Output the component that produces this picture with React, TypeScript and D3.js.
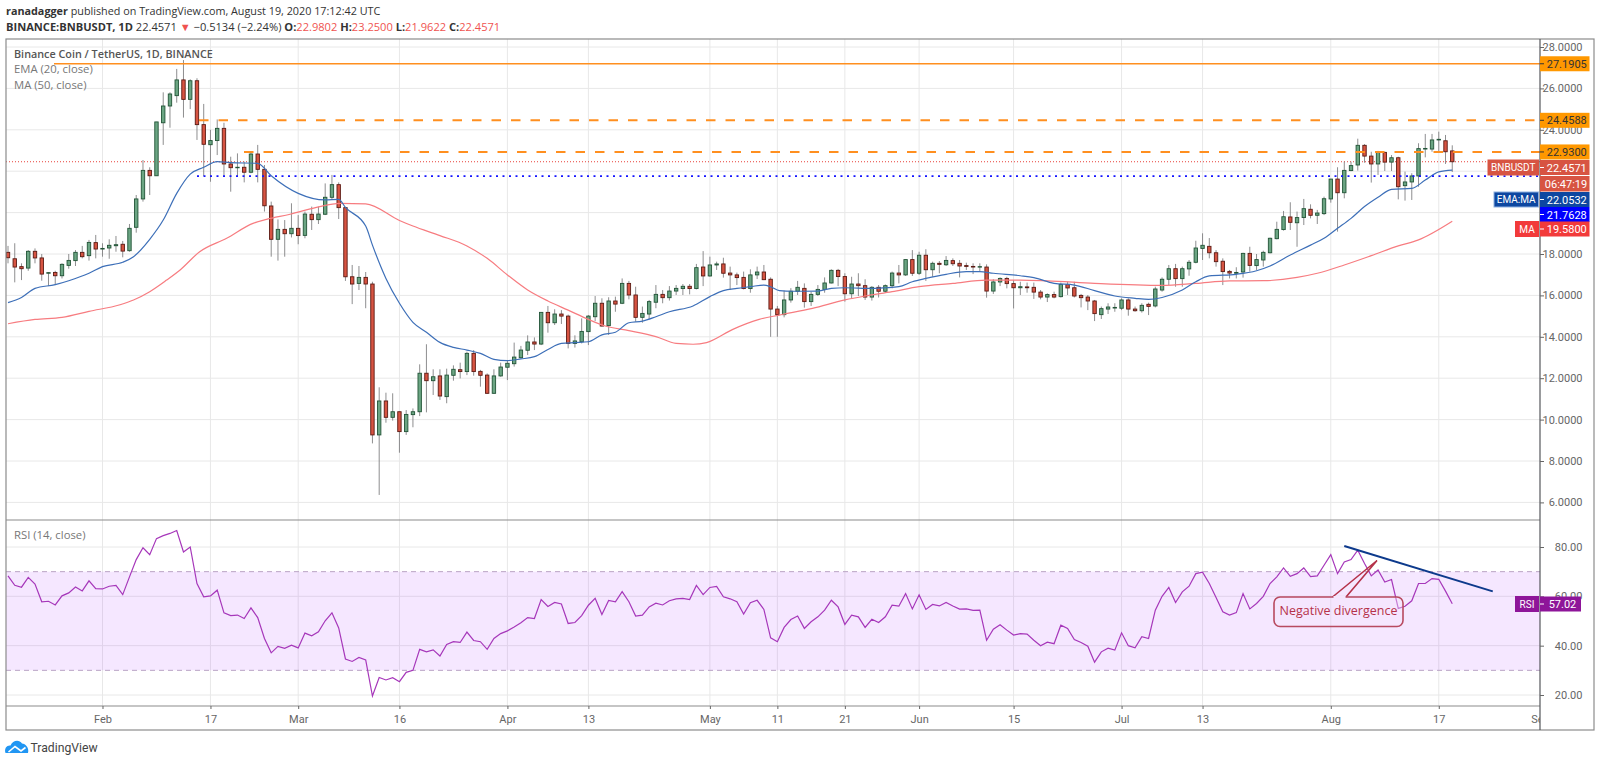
import { useEffect, useRef } from "react";
import * as d3 from "d3";

// daily candles, bar 0 = Jan 18 2020
const opens = [
  18.08,17.77,17.39,17.32,18.13,17.81,17.07,17.11,16.95,17.45,
  17.68,18.08,17.92,18.55,18.24,18.29,18.40,18.47,18.16,19.29,
  20.66,22.04,21.78,24.34,25.15,25.65,26.41,25.47,26.37,24.25,
  23.28,23.48,24.07,22.35,22.17,22.19,21.95,22.83,22.09,20.32,
  18.71,19.19,18.98,19.24,18.90,19.92,19.66,19.92,20.74,21.35,
  20.24,16.90,16.58,16.87,16.55,9.26,10.90,10.11,10.38,9.42,
  10.24,10.38,12.24,11.88,12.11,11.11,12.14,12.41,12.32,13.20,
  12.33,12.15,11.27,12.11,12.53,12.70,12.99,13.35,13.75,13.65,
  15.18,14.68,15.10,15.00,13.68,13.76,14.25,14.97,15.62,14.54,
  15.73,15.62,16.58,16.02,14.94,15.10,15.67,16.05,15.89,16.21,
  16.33,16.44,16.33,17.37,16.94,17.47,17.52,17.08,16.99,16.87,
  16.33,16.99,17.13,16.78,15.34,15.07,15.78,16.20,16.34,15.70,
  16.05,16.29,16.60,17.21,16.91,16.08,16.55,16.47,15.92,16.39,
  16.20,16.47,17.08,16.99,17.73,17.07,17.94,17.24,17.55,17.48,
  17.68,17.55,17.44,17.40,17.37,17.37,16.21,16.65,16.82,16.57,
  16.37,16.41,16.39,16.16,15.92,16.04,15.94,16.52,16.37,16.00,
  15.92,15.73,15.07,15.34,15.39,15.38,15.78,15.34,15.26,15.57,
  15.49,16.26,16.78,17.29,16.81,17.28,17.60,18.27,18.37,18.06,
  17.65,17.16,17.07,17.13,18.03,17.44,17.71,18.06,18.74,19.18,
  19.79,19.51,19.76,20.16,19.87,19.95,20.66,21.62,20.96,22.03,
  22.30,23.25,22.73,22.35,22.91,22.44,22.65,21.30,21.48,21.77,
  23.07,23.07,23.51,23.47,22.9802,
];
const closes = [
  17.82,17.37,17.29,18.13,17.81,17.03,17.10,16.95,17.50,17.69,
  18.08,17.87,18.56,18.24,18.27,18.42,18.45,18.14,19.24,20.66,
  22.04,21.78,24.38,25.15,25.73,26.41,25.47,26.37,24.25,23.30,
  23.48,24.07,22.35,22.17,22.19,21.95,22.83,22.09,20.33,18.71,
  19.19,18.98,19.24,18.89,19.93,19.66,19.93,20.74,21.35,20.24,
  16.90,16.55,16.87,16.55,9.26,10.90,10.11,10.38,9.42,10.25,
  10.38,12.24,11.88,12.07,11.14,12.15,12.43,12.32,13.20,12.32,
  12.14,11.27,12.11,12.54,12.72,13.02,13.36,13.75,13.65,15.18,
  14.68,15.10,15.00,13.68,13.80,14.26,15.00,15.62,14.52,15.73,
  15.58,16.58,16.02,14.94,15.13,15.70,16.05,15.89,16.21,16.34,
  16.44,16.33,17.34,16.94,17.47,17.52,17.07,16.99,16.86,16.33,
  16.99,17.13,16.76,15.34,15.07,15.78,16.20,16.39,15.70,16.05,
  16.29,16.60,17.21,16.91,16.08,16.55,16.47,15.92,16.39,16.20,
  16.47,17.08,16.99,17.73,17.07,17.94,17.24,17.55,17.50,17.69,
  17.53,17.42,17.40,17.37,17.39,16.21,16.65,16.82,16.57,16.37,
  16.42,16.37,16.16,15.92,16.04,15.92,16.53,16.36,15.97,15.89,
  15.73,15.12,15.36,15.44,15.42,15.78,15.34,15.26,15.52,15.47,
  16.31,16.78,17.29,16.81,17.29,17.60,18.29,18.42,18.06,17.63,
  17.15,17.08,17.11,18.03,17.45,17.73,18.08,18.76,19.19,19.80,
  19.53,19.76,20.19,19.87,19.98,20.67,21.62,20.96,22.04,22.27,
  23.25,22.73,22.35,22.91,22.44,22.65,21.25,21.48,21.77,23.09,
  23.10,23.51,23.54,22.94,22.4571,
];
const highs = [
  18.39,18.52,17.55,18.19,18.27,18.00,17.12,17.19,17.55,18.00,
  18.19,18.39,18.68,18.92,18.52,18.71,18.87,18.63,19.45,20.85,
  22.54,22.19,24.38,25.81,25.81,26.94,27.37,26.44,26.49,25.25,
  24.00,24.50,24.34,22.70,22.86,22.46,22.90,23.27,22.30,20.53,
  19.67,19.64,20.45,19.88,20.05,20.29,20.29,21.41,21.82,21.46,
  20.24,17.47,17.42,17.13,16.66,11.56,11.30,11.27,10.38,10.46,
  10.54,12.67,13.64,12.43,12.43,12.46,12.62,12.75,13.28,13.36,
  12.40,12.23,12.43,12.75,12.88,13.72,13.56,14.07,13.97,15.18,
  15.49,15.33,15.29,15.07,14.07,14.89,15.05,15.97,15.86,15.91,
  15.94,16.82,16.70,16.42,15.46,15.78,16.50,16.26,16.45,16.50,
  16.55,16.55,17.52,18.14,17.87,17.63,17.82,17.39,17.10,17.15,
  17.26,17.39,17.47,16.87,15.49,16.23,16.35,16.70,16.58,16.18,
  16.50,16.87,17.26,17.28,17.07,16.90,17.07,16.78,16.45,16.50,
  16.53,17.15,17.47,17.74,18.19,18.11,18.23,17.63,17.66,17.90,
  17.79,17.71,17.58,17.55,17.55,17.50,16.78,16.87,16.90,16.74,
  16.66,16.62,16.62,16.26,16.10,16.18,16.62,16.66,16.66,16.07,
  16.02,15.78,15.46,15.62,15.62,15.86,15.86,15.46,15.62,15.65,
  16.42,16.87,17.47,17.52,17.39,17.71,18.64,19.00,18.77,18.19,
  17.79,17.23,17.36,18.06,18.35,18.00,18.16,18.79,19.56,20.08,
  20.50,20.05,20.66,20.40,20.13,20.77,21.62,22.19,22.46,22.46,
  23.57,23.31,22.94,22.98,22.94,22.78,22.70,21.98,21.90,23.35,
  23.80,23.80,23.91,23.75,23.25,
];
const lows = [
  17.55,16.63,16.74,17.19,17.55,16.71,16.45,16.50,16.82,17.29,
  17.42,17.79,17.68,17.79,17.87,17.77,18.11,17.84,18.11,19.03,
  20.53,20.85,21.78,23.27,24.10,25.31,24.59,25.00,23.51,21.77,
  21.49,22.78,21.78,21.01,21.74,21.46,21.90,21.46,20.05,17.87,
  17.68,17.87,18.80,18.47,18.76,19.16,19.45,19.88,20.64,19.69,
  16.70,15.58,16.26,15.38,8.85,6.36,9.85,9.95,8.40,9.26,
  9.63,10.17,10.35,11.19,10.95,10.79,11.88,11.99,12.15,12.12,
  11.59,11.24,11.24,12.07,11.91,12.56,12.96,13.12,13.36,13.60,
  14.20,14.57,14.62,13.44,13.48,13.68,13.60,14.76,14.49,14.09,
  15.21,15.58,15.81,14.73,14.68,14.86,15.38,15.62,15.75,16.02,
  16.02,16.05,16.29,16.45,16.90,17.23,16.86,16.26,16.50,16.29,
  16.13,16.79,16.74,14.00,14.00,14.94,15.65,16.02,15.41,15.49,
  15.97,16.13,16.58,16.45,15.70,15.86,15.97,15.78,15.75,15.90,
  16.13,16.34,16.58,16.94,16.94,16.99,16.70,16.90,17.07,17.42,
  17.42,16.87,17.23,17.03,17.15,15.89,16.07,16.45,16.34,15.37,
  16.02,16.13,15.83,15.81,15.68,15.86,15.90,16.02,15.90,15.42,
  15.29,14.76,14.86,15.10,15.21,15.29,15.02,15.21,15.17,15.05,
  15.42,16.18,16.50,16.42,16.42,16.95,17.55,17.71,17.79,17.39,
  16.50,16.82,16.82,16.86,17.15,17.23,17.39,18.03,18.71,19.13,
  19.16,18.35,19.40,19.72,19.45,19.88,20.48,19.08,20.69,22.00,
  22.03,22.41,21.45,21.82,22.01,22.01,20.64,20.58,20.61,21.25,
  22.67,22.94,22.94,22.35,21.9622,
];
const rsi = [
  68.3,64.5,63.7,67.7,65.0,57.8,58.0,56.5,60.2,61.4,
  63.8,62.2,66.3,63.1,63.0,64.1,64.4,60.7,67.9,74.9,
  79.7,76.9,83.4,84.6,85.5,86.7,78.0,80.0,65.2,59.8,
  60.2,62.5,53.3,52.2,52.4,51.0,55.3,51.4,42.9,37.1,
  39.7,38.9,40.2,39.1,45.1,44.0,45.6,50.1,53.3,47.2,
  34.6,33.6,35.2,34.2,19.6,27.1,26.1,27.0,25.4,29.2,
  30.0,38.5,37.5,38.3,35.8,40.5,41.6,41.3,45.5,42.1,
  41.6,38.5,42.9,44.9,46.0,47.6,49.3,51.4,51.0,58.7,
  55.9,57.5,56.9,49.0,49.4,52.2,56.4,59.2,52.6,58.3,
  57.8,61.9,57.8,52.0,52.4,55.7,57.2,56.5,58.2,59.0,
  59.2,58.7,64.4,60.7,63.6,64.0,59.8,59.0,57.8,52.8,
  57.4,58.4,54.7,43.2,41.6,47.4,50.6,52.0,47.0,49.7,
  51.7,54.4,58.4,55.7,48.6,52.4,51.7,47.4,50.7,49.4,
  51.7,56.4,56.0,61.1,54.9,60.6,54.7,56.7,56.1,57.5,
  56.1,54.8,54.9,54.3,54.4,42.2,46.7,48.5,46.3,44.3,
  44.9,44.7,42.2,40.0,41.4,40.8,48.3,47.0,42.5,41.3,
  39.8,33.3,37.5,39.0,38.2,45.2,40.0,39.1,43.6,42.9,
  54.4,60.0,63.6,57.5,61.8,64.1,69.2,69.8,65.2,59.5,
  53.7,52.4,53.4,61.1,54.9,57.1,60.0,65.2,67.9,71.5,
  68.1,69.2,71.5,68.0,68.3,72.6,76.9,69.2,73.9,74.9,
  78.7,73.3,68.3,70.7,65.8,66.8,55.1,56.0,58.2,65.2,
  65.2,67.2,66.9,62.1,57.02,
];

// EMA 20 and MA 50 read every couple of bars
const emaBars = [0,2,4,7,9,12,14,17,18.6,21,23,25,27,29,31,33,37,39,43,47,49,50,53,54,56,58,60,62,64,66,68,70,72,74,76,78,80,82,84,86,88,90,92,94,96,98,101.5,104,106,108,110,112,113,114.3,116.3,120,122,124,128,130,132,134,136,139,142,144,146,150,152,155,158,161,164,167,169,171,174,176,178,182,185,187,190,193,195,197,199,201,203,205,208,210,212,214];
const emaValues = [15.65,15.9,16.34,16.52,16.71,17.07,17.39,17.6,17.87,18.71,19.64,20.93,21.86,22.19,22.46,22.41,22.38,21.78,20.93,20.61,20.64,20.25,19.35,18.43,16.82,15.62,14.7,14.22,13.73,13.49,13.36,13.2,12.91,12.85,12.93,13.04,13.39,13.68,13.72,13.76,14.09,14.22,14.68,14.76,14.97,15.21,15.49,15.94,16.23,16.34,16.42,16.5,16.42,16.23,16.2,16.21,16.34,16.37,16.34,16.37,16.42,16.66,16.82,17.02,17.15,17.15,17.07,16.95,16.86,16.58,16.5,16.23,15.97,15.86,15.81,15.9,16.26,16.66,16.94,17.02,17.19,17.42,17.95,18.43,18.76,19.24,19.72,20.29,20.74,21.12,21.17,21.57,21.97,22.0532];
const maBars = [0,4,8,12,16.6,18.6,21,23.5,25.5,28.4,32.4,36.3,38.3,41.8,45.7,49.2,53,58,60,64,68,71,74,77,80,83,86,88.5,92,96,99,101.5,103.5,107.4,111.3,114.3,119.2,124,127,131,135,140,145,150,154,161,171,176,181,186,191,194,198,202,206,209,214];
const maValues = [14.63,14.84,14.94,15.23,15.55,15.78,16.18,16.74,17.23,18.11,18.76,19.48,19.67,19.92,20.25,20.45,20.42,19.62,19.35,18.89,18.39,17.79,16.99,16.26,15.73,15.29,14.84,14.52,14.3,14.01,13.68,13.64,13.72,14.36,14.84,15.05,15.37,15.78,15.97,16.18,16.42,16.58,16.74,16.74,16.7,16.58,16.48,16.58,16.7,16.71,16.87,17.07,17.47,17.92,18.39,18.68,19.58];

const priceTicks = [6, 8, 10, 12, 14, 16, 18, 20, 22, 24, 26, 28];
const rsiTicks = [20, 40, 60, 80];
// 20 and 22 sit wholly under the price tags, so only the mark is kept
const hiddenPriceLabels = [20, 22];
const dateTickBars = [14, 30, 43, 58, 74, 86, 104, 114, 124, 135, 149, 165, 177, 196, 212, 227];
const dateTickLabels = ["Feb", "17", "Mar", "16", "Apr", "13", "May", "11", "21", "Jun", "15", "Jul", "13", "Aug", "17", "Sep"];

const RESISTANCE = 27.1905;
const LEVEL_HIGH = 24.4588;
const LEVEL_MID = 22.93;
const SUPPORT = 21.7628;
const LAST = 22.4571;
const EMA_LAST = 22.0532;
const MA_LAST = 19.58;
const RSI_LAST = 57.02;

const FONT = "'Open Sans', sans-serif";
const AXIS_FONT = "Roboto, sans-serif";

export default function App() {
  const svgRef = useRef<SVGSVGElement>(null);

  useEffect(() => {
    if (!svgRef.current) return;
    const width = 1600;
    const height = 763;
    const frame = { left: 6, right: 1594, top: 39, bottom: 730 };
    const axisX = 1540;
    const mainBottom = 520;
    const rsiBottom = 706;

    const svg = d3.select(svgRef.current)
      .attr("viewBox", `0 0 ${width} ${height}`);
    svg.selectAll("*").remove();

    // Scales
    const x = d3.scaleLinear().domain([0, 227]).range([8, axisX]);
    const y = d3.scaleLinear().domain([18, 28]).range([254, 47]);
    const yRsi = d3.scaleLinear().domain([20, 80]).range([695, 547]);

    // clip marks to the panes
    const defs = svg.append("defs");
    defs.append("clipPath").attr("id", "main-clip").append("rect")
      .attr("x", frame.left).attr("y", frame.top)
      .attr("width", axisX - frame.left).attr("height", mainBottom - frame.top);

    svg.append("rect").attr("width", width).attr("height", height).attr("fill", "#fff");

    // Gridlines
    const grid = svg.append("g").attr("stroke", "#e8e8e8").attr("stroke-width", 1);
    priceTicks.forEach(t => {
      grid.append("line")
        .attr("x1", frame.left).attr("x2", axisX)
        .attr("y1", y(t)).attr("y2", y(t));
    });
    rsiTicks.forEach(t => {
      grid.append("line")
        .attr("x1", frame.left).attr("x2", axisX)
        .attr("y1", yRsi(t)).attr("y2", yRsi(t));
    });
    dateTickBars.forEach(b => {
      if (b >= 227) return;
      grid.append("line")
        .attr("x1", x(b)).attr("x2", x(b))
        .attr("y1", frame.top).attr("y2", rsiBottom);
    });

    // RSI band
    svg.append("rect")
      .attr("x", frame.left).attr("width", axisX - frame.left)
      .attr("y", yRsi(70)).attr("height", yRsi(30) - yRsi(70))
      .attr("fill", "#9915ff").attr("opacity", 0.1);
    [70, 30].forEach(v => {
      svg.append("line")
        .attr("x1", frame.left).attr("x2", axisX)
        .attr("y1", yRsi(v)).attr("y2", yRsi(v))
        .attr("stroke", "#b9a3c4").attr("stroke-width", 1)
        .attr("stroke-dasharray", "5,4");
    });

    // Last price line under the candles
    svg.append("line")
      .attr("x1", frame.left).attr("x2", axisX)
      .attr("y1", y(LAST)).attr("y2", y(LAST))
      .attr("stroke", "#e8403a").attr("stroke-width", 1)
      .attr("stroke-dasharray", "1,2");

    // Candles
    const bars = d3.range(opens.length);
    const candles = svg.append("g").attr("clip-path", "url(#main-clip)");
    candles.selectAll("line.wick")
      .data(bars)
      .join("line")
      .attr("class", "wick")
      .attr("x1", i => x(i)).attr("x2", i => x(i))
      .attr("y1", i => y(highs[i])).attr("y2", i => y(lows[i]))
      .attr("stroke", "#737375").attr("stroke-width", 1).attr("opacity", 0.8);
    candles.selectAll("rect.body")
      .data(bars)
      .join("rect")
      .attr("class", "body")
      .attr("x", i => x(i) - 1.7)
      .attr("width", 3.4)
      .attr("y", i => y(Math.max(opens[i], closes[i])))
      .attr("height", i => Math.max(0.5, Math.abs(y(opens[i]) - y(closes[i]))))
      .attr("fill", i => closes[i] >= opens[i] ? "#6ba583" : "#d75442")
      .attr("stroke", i => closes[i] >= opens[i] ? "#225437" : "#5b1a13")
      .attr("stroke-width", 0.9);

    // EMA and MA
    const drawLine = (xs: number[], ys: number[], color: string) => {
      svg.append("path")
        .attr("d", d3.line<number>()
          .x(i => x(xs[i]))
          .y(i => y(ys[i]))
          .curve(d3.curveMonotoneX)(d3.range(xs.length)))
        .attr("fill", "none")
        .attr("stroke", color)
        .attr("stroke-width", 1.2);
    };
    drawLine(maBars, maValues, "#f77c80");
    drawLine(emaBars, emaValues, "#3d6fb8");

    // Drawn levels
    svg.append("line")
      .attr("x1", 54).attr("x2", axisX)
      .attr("y1", y(RESISTANCE)).attr("y2", y(RESISTANCE))
      .attr("stroke", "#ff8f1f").attr("stroke-width", 1.4);
    svg.append("line")
      .attr("x1", 199).attr("x2", axisX)
      .attr("y1", y(LEVEL_HIGH)).attr("y2", y(LEVEL_HIGH))
      .attr("stroke", "#ff8f1f").attr("stroke-width", 2)
      .attr("stroke-dasharray", "9.5,10");
    svg.append("line")
      .attr("x1", 244).attr("x2", axisX)
      .attr("y1", y(LEVEL_MID)).attr("y2", y(LEVEL_MID))
      .attr("stroke", "#ff8f1f").attr("stroke-width", 2)
      .attr("stroke-dasharray", "9.5,10");
    svg.append("line")
      .attr("x1", 197).attr("x2", axisX)
      .attr("y1", y(SUPPORT)).attr("y2", y(SUPPORT))
      .attr("stroke", "#1414ff").attr("stroke-width", 1.8)
      .attr("stroke-dasharray", "2,4.5");

    // RSI line
    svg.append("path")
      .attr("d", d3.line<number>().x((_, i) => x(i)).y(d => yRsi(d))(rsi))
      .attr("fill", "none")
      .attr("stroke", "#a637ba")
      .attr("stroke-width", 1.2);

    // Trendline on RSI
    svg.append("line")
      .attr("x1", x(198)).attr("y1", yRsi(80.4))
      .attr("x2", x(220)).attr("y2", yRsi(62))
      .attr("stroke", "#0d3a8c").attr("stroke-width", 2);

    // Callout
    const callout = svg.append("g");
    callout.append("path")
      .attr("d", "M1332.5,597 L1377,560.5 L1346,597")
      .attr("fill", "none")
      .attr("stroke", "#b5324a")
      .attr("stroke-width", 1.6);
    callout.append("rect")
      .attr("x", 1274).attr("y", 597).attr("width", 129).attr("height", 29.5)
      .attr("rx", 6)
      .attr("fill", "#f4e6fd").attr("fill-opacity", 0.4)
      .attr("stroke", "#b84a60").attr("stroke-width", 1.6);
    callout.append("rect")
      .attr("x", 1333.5).attr("y", 596).attr("width", 12).attr("height", 2.5)
      .attr("fill", "#f4e6fd");
    callout.append("text")
      .attr("x", 1338.5).attr("y", 614.5)
      .attr("text-anchor", "middle")
      .attr("font-family", FONT).attr("font-size", 12.5)
      .attr("fill", "#b5324a")
      .text("Negative divergence");

    // Frame and pane dividers
    svg.append("rect")
      .attr("x", frame.left).attr("y", frame.top)
      .attr("width", frame.right - frame.left).attr("height", frame.bottom - frame.top)
      .attr("fill", "none").attr("stroke", "#8c8c8c").attr("stroke-width", 1.2);
    [mainBottom, rsiBottom].forEach(v => {
      svg.append("line")
        .attr("x1", frame.left).attr("x2", axisX)
        .attr("y1", v).attr("y2", v)
        .attr("stroke", "#8c8c8c").attr("stroke-width", 1.2);
    });
    svg.append("line")
      .attr("x1", axisX).attr("x2", axisX)
      .attr("y1", frame.top).attr("y2", frame.bottom)
      .attr("stroke", "#55585c").attr("stroke-width", 1.2);

    // Axes
    const styleAxis = (g: d3.Selection<SVGGElement, unknown, null, undefined>) => {
      g.select(".domain").remove();
      g.selectAll(".tick line").attr("stroke", "#666");
      g.selectAll(".tick text")
        .attr("font-family", AXIS_FONT).attr("font-size", 11).attr("fill", "#666");
    };
    const priceAxis = svg.append("g")
      .attr("transform", `translate(${axisX},0)`)
      .call(d3.axisRight(y).tickValues(priceTicks).tickSize(4)
        .tickFormat(d => hiddenPriceLabels.includes(d as number) ? "" : (d as number).toFixed(4)));
    styleAxis(priceAxis);
    priceAxis.selectAll(".tick text").attr("x", 42.5).attr("text-anchor", "end");

    const rsiAxis = svg.append("g")
      .attr("transform", `translate(${axisX},0)`)
      .call(d3.axisRight(yRsi).tickValues(rsiTicks).tickSize(4).tickFormat(d => (d as number).toFixed(2)));
    styleAxis(rsiAxis);
    rsiAxis.selectAll(".tick text").attr("x", 42.5).attr("text-anchor", "end");

    // Sep is cut by the price axis in the original
    defs.append("clipPath").attr("id", "time-clip").append("rect")
      .attr("x", frame.left).attr("y", rsiBottom)
      .attr("width", axisX - frame.left).attr("height", frame.bottom - rsiBottom);
    const timeAxis = svg.append("g")
      .attr("clip-path", "url(#time-clip)")
      .append("g")
      .attr("transform", `translate(0,${rsiBottom})`)
      .call(d3.axisBottom(x).tickValues(dateTickBars).tickSize(3).tickFormat((_, i) => dateTickLabels[i]));
    styleAxis(timeAxis);
    timeAxis.selectAll(".tick text").attr("y", 9);

    // Price tags on the axis
    const tag = (cy: number, label: string, bg: string, fg: string, right = 1589.5) => {
      svg.append("rect")
        .attr("x", axisX).attr("y", cy - 7.5)
        .attr("width", right - axisX).attr("height", 15)
        .attr("fill", bg);
      svg.append("line")
        .attr("x1", axisX).attr("x2", axisX + 4)
        .attr("y1", cy).attr("y2", cy)
        .attr("stroke", fg);
      svg.append("text")
        .attr("x", (right + axisX) / 2 + 2).attr("y", cy + 4)
        .attr("text-anchor", "middle")
        .attr("font-family", AXIS_FONT).attr("font-size", 11)
        .attr("fill", fg)
        .text(label);
    };
    const nameTag = (cy: number, xLeft: number, label: string, bg: string, border: string) => {
      svg.append("rect")
        .attr("x", xLeft).attr("y", cy - 7.5)
        .attr("width", axisX - 1.5 - xLeft).attr("height", 15)
        .attr("fill", bg).attr("stroke", border);
      svg.append("text")
        .attr("x", (xLeft + axisX - 1.5) / 2).attr("y", cy + 3.6)
        .attr("text-anchor", "middle")
        .attr("font-family", AXIS_FONT).attr("font-size", 10)
        .attr("fill", "#fff")
        .text(label);
    };
    tag(y(RESISTANCE), RESISTANCE.toFixed(4), "#ff9800", "#333");
    tag(y(LEVEL_HIGH), LEVEL_HIGH.toFixed(4), "#ff9800", "#333");
    tag(y(LEVEL_MID), LEVEL_MID.toFixed(4), "#ff9800", "#333");
    tag(167.5, LAST.toFixed(4), "#d75442", "#fff");
    nameTag(167.5, 1488, "BNBUSDT", "#d75442", "#d75442");
    svg.append("rect").attr("x", axisX).attr("y", 176).attr("width", 49.5).attr("height", 15.5).attr("fill", "#d75442");
    svg.append("text")
      .attr("x", axisX + 26).attr("y", 188)
      .attr("text-anchor", "middle")
      .attr("font-family", AXIS_FONT).attr("font-size", 11).attr("fill", "#fff")
      .text("06:47:19");
    tag(199.5, EMA_LAST.toFixed(4), "#0d47a1", "#fff");
    nameTag(199.5, 1494, "EMA:MA", "#0d47a1", "#8fb1e0");
    tag(214.5, SUPPORT.toFixed(4), "#0000ff", "#fff");
    tag(229, MA_LAST.toFixed(4), "#f23a3a", "#fff");
    nameTag(229, 1515.5, "MA", "#f23a3a", "#f23a3a");
    tag(604, RSI_LAST.toFixed(2), "#8e1599", "#fff", 1581);
    nameTag(604, 1515.5, "RSI", "#8e1599", "#8e1599");

    // Legend
    const legend = svg.append("g").attr("font-family", FONT).attr("font-size", 11.3);
    legend.append("text").attr("x", 14).attr("y", 58)
      .attr("fill", "#555").attr("font-weight", 600).attr("font-size", 10.8)
      .text("Binance Coin / TetherUS, 1D, BINANCE");
    legend.append("text").attr("x", 14).attr("y", 73).attr("fill", "#777").text("EMA (20, close)");
    legend.append("text").attr("x", 14).attr("y", 88.5).attr("fill", "#777").text("MA (50, close)");
    legend.append("text").attr("x", 14).attr("y", 539).attr("fill", "#777").text("RSI (14, close)");

    // Header lines
    const head = svg.append("g").attr("font-family", FONT).attr("fill", "#333");
    const line1 = head.append("text").attr("x", 6).attr("y", 15).attr("font-size", 10.8);
    line1.append("tspan").attr("font-weight", 700).text("ranadagger");
    line1.append("tspan").text(" published on TradingView.com, August 19, 2020 17:12:42 UTC");
    const line2 = head.append("text").attr("x", 6).attr("y", 30.5).attr("font-size", 11.1);
    line2.append("tspan").attr("font-weight", 700).text("BINANCE:BNBUSDT, 1D");
    line2.append("tspan").text("  22.4571 ");
    line2.append("tspan").attr("fill", "#ef5350").text("▼");
    line2.append("tspan").text(" −0.5134 (−2.24%) ");
    const ohlc: [string, string][] = [["O:", "22.9802"], ["H:", "23.2500"], ["L:", "21.9622"], ["C:", "22.4571"]];
    ohlc.forEach(([k, v]) => {
      line2.append("tspan").attr("font-weight", 700).text(k);
      line2.append("tspan").attr("fill", "#ef5350").text(v + " ");
    });

    // Logo
    const logo = svg.append("g");
    logo.append("path")
      .attr("d", "M5.5,753 C4,748 7,745 10.5,745.5 C12.5,740.5 19,739 22,743.5 C25.5,743.5 29.5,748 28,753 Z")
      .attr("fill", "#2196f3");
    logo.append("path")
      .attr("d", "M8.5,752 L15,746.5 L21,751 L25.5,747.5")
      .attr("fill", "none").attr("stroke", "#fff").attr("stroke-width", 1.6);
    logo.append("text")
      .attr("x", 30.5).attr("y", 751.5)
      .attr("font-family", AXIS_FONT).attr("font-size", 12.2).attr("fill", "#444")
      .text("TradingView");
  }, []);

  return (
    <svg
      ref={svgRef}
      width={1600}
      height={763}
      style={{ position: "absolute", left: 0, top: 0, display: "block" }}
    />
  );
}
